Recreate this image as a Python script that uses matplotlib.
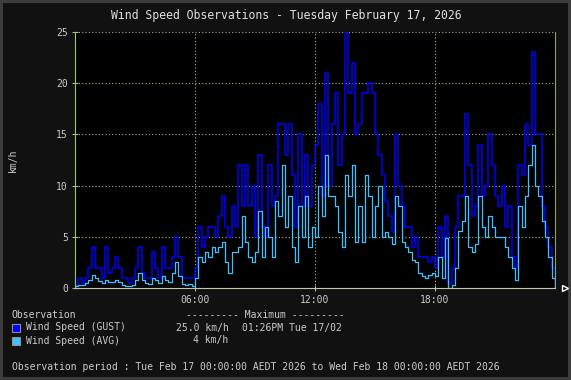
import numpy as np
import matplotlib
matplotlib.use('Agg')
import matplotlib.pyplot as plt

# samples every 10 minutes, 00:00 -> 24:00 (km/h)
gust = [0.3, 1, 0.5, 1, 2, 4, 2, 2, 1, 4, 1.5, 2,
        3, 2, 1, 1, 0.5, 1, 2, 4, 1.5, 1, 1, 3.5,
        2, 1, 4, 2, 2, 3, 5, 3, 1, 1, 1, 1,
        2, 6, 4, 5, 6, 6, 5, 7, 9, 6, 5, 8,
        6, 12, 8, 12, 8, 10, 5, 13, 6, 5, 12, 8,
        9, 16, 16, 13, 16, 11, 6, 15, 8, 13, 8, 12,
        14, 18, 9, 21, 10, 16, 19, 12, 15, 25, 19, 22,
        15, 16, 19, 19, 20, 19, 15, 13, 11, 8.5, 7, 5.5,
        15, 10, 8, 6, 6, 4, 5, 3, 3, 3, 2.5, 3,
        2, 6, 3, 7, 0.5, 2, 6, 9, 9, 17, 12, 7,
        8, 14, 9, 10, 15, 12, 9, 8, 10, 6, 8, 3,
        2, 12, 11, 16, 14, 23, 15, 15, 8, 6, 4, 2, 0]
avg = [0.2, 0.3, 0.3, 0.5, 0.8, 1.3, 1.0, 0.7, 0.5, 0.8, 0.6, 0.6,
       0.8, 0.6, 0.3, 0.2, 0.2, 0.3, 0.8, 1.5, 0.8, 0.5, 0.4, 1.0,
       0.8, 0.5, 1.2, 0.8, 0.6, 1.5, 2.5, 1.2, 0.4, 0.3, 0.4, 0.2,
       1.0, 3.0, 2.5, 3.5, 3.0, 4.0, 3.5, 4.0, 4.5, 2.5, 1.5, 3.5,
       3.5, 4.0, 7.0, 4.5, 3.0, 2.5, 3.5, 7.5, 3.0, 6.0, 5.0, 3.0,
       8.5, 7.0, 12.0, 6.0, 9.0, 4.0, 2.5, 8.0, 5.0, 9.0, 4.0, 6.0,
       5.0, 10.0, 7.0, 13.0, 9.0, 9.0, 8.0, 5.5, 4.0, 11.0, 9.0, 12.0,
       4.5, 8.0, 4.5, 11.0, 9.0, 5.0, 8.0, 10.0, 5.0, 5.5, 5.0, 4.3,
       9.0, 8.0, 4.5, 4.0, 3.5, 2.7, 2.5, 1.5, 1.2, 1.0, 1.3, 1.5,
       1.2, 3.0, 1.0, 4.9, 0.0, 0.3, 2.0, 5.6, 6.5, 9.0, 4.0, 3.5,
       4.3, 9.0, 6.0, 5.0, 7.0, 6.0, 5.0, 5.0, 5.0, 4.0, 3.0, 2.0,
       0.8, 8.0, 6.0, 9.0, 12.0, 14.0, 10.0, 9.0, 6.5, 5.0, 3.0, 1.0, 0]
hours = np.arange(len(gust)) * 10 / 60.0

x_ticks = [6, 12, 18]
x_labels = ['06:00', '12:00', '18:00']
y_ticks = [0, 5, 10, 15, 20, 25]

title = 'Wind Speed Observations - Tuesday February 17, 2026'
period = ('Observation period : Tue Feb 17 00:00:00 AEDT 2026 to '
          'Wed Feb 18 00:00:00 AEDT 2026')

W, H = 571, 380
bg = '#111111'
txt = '#cccccc'
grid = '#a0c080'
gust_col = '#0000ff'
avg_col = '#40c0ff'

plt.rcParams['font.family'] = ['DejaVu Sans Mono']

fig = plt.figure(figsize=(W / 100, H / 100), dpi=100)
fig.patch.set_facecolor(bg)
fig.patch.set_edgecolor('#3c3c3c')
fig.patch.set_linewidth(3)

ax = fig.add_axes([75 / W, 1 - 288 / H, 480 / W, 256 / H])
ax.set_facecolor('black')

ax.step(hours, gust, where='post', color=gust_col, lw=1.1)
ax.step(hours, avg, where='post', color=avg_col, lw=0.9)

ax.set_xlim(0, 24)
ax.set_ylim(0, 25)
ax.set_xticks(x_ticks)
ax.set_xticklabels(x_labels)
ax.set_yticks(y_ticks)
ax.grid(True, color=grid, linestyle=(0, (1, 2)), lw=0.8)
ax.tick_params(colors=grid, labelcolor=txt, labelsize=7, direction='inout',
               length=4, width=0.8, pad=3)

ax.spines['top'].set_visible(False)
ax.spines['left'].set_color(grid)
ax.spines['bottom'].set_color('#c0c8b0')
ax.spines['right'].set_color('#a0a040')

# arrow at the end of the x axis
ax.plot([1.02], [0], marker='>', markersize=5, markerfacecolor='none',
        markeredgecolor='white', transform=ax.transAxes, clip_on=False)

fig.text(286 / W, 1 - 15 / H, title, color='#e0e0e0', fontsize=8.3,
         ha='center', va='center')
fig.text(12.5 / W, 1 - 160 / H, 'km/h', color=txt, fontsize=7,
         rotation=90, ha='center', va='center')

def ftext(x, y, s, ha='left'):
    fig.text(x / W, 1 - y / H, s, color=txt, fontsize=7, ha=ha, va='center')

ftext(12, 315, 'Observation')
ftext(186.5, 315, '--------- Maximum ---------')
ftext(26.5, 327.5, 'Wind Speed (GUST)')
ftext(228.5, 327.5, '25.0 km/h', ha='right')
ftext(241.5, 327.5, '01:26PM Tue 17/02')
ftext(26.5, 340.5, 'Wind Speed (AVG)')
ftext(228.5, 340.5, '4 km/h', ha='right')
ftext(12, 366.5, period)

for yc, col in [(327.5, gust_col), (340.5, avg_col)]:
    fig.patches.append(plt.Rectangle((12 / W, 1 - (yc + 4) / H), 8 / W, 8 / H,
                                     transform=fig.transFigure,
                                     facecolor=col, edgecolor='#909090', lw=0.8))

fig.savefig('out.png', dpi=100, facecolor=bg, edgecolor=fig.patch.get_edgecolor())
